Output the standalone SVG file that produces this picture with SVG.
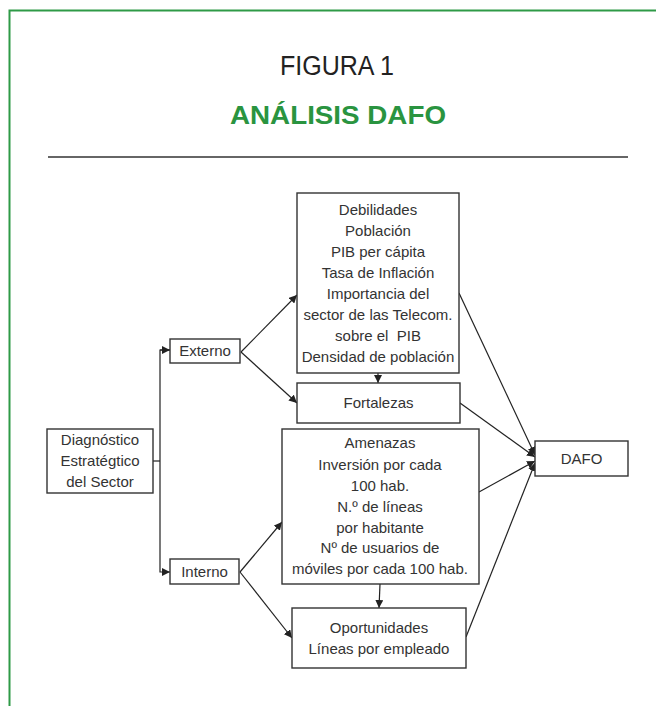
<svg xmlns="http://www.w3.org/2000/svg" width="656" height="706" viewBox="0 0 656 706">
<defs>
<style>
.box{fill:#fff;stroke:#333;stroke-width:1.4}
.t{font-family:"Liberation Sans",Arial,sans-serif;font-size:15px;fill:#333;text-anchor:middle}
.c{fill:none;stroke:#222;stroke-width:1.2}
</style>
<marker id="ah" viewBox="0 0 10 10" refX="10" refY="5" markerWidth="8" markerHeight="8" markerUnits="userSpaceOnUse" orient="auto">
<path d="M0,0 L10,5 L0,10 z" fill="#222"/>
</marker>
</defs>
<rect x="0" y="0" width="656" height="706" fill="#fff"/>
<path d="M9.5,706 L9.5,10.5 L656,10.5" fill="none" stroke="#2e9a47" stroke-width="2"/>
<text x="337" y="75" font-family="'Liberation Sans',Arial,sans-serif" font-size="27" fill="#222" text-anchor="middle" textLength="114" lengthAdjust="spacingAndGlyphs">FIGURA 1</text>
<text x="338" y="124" font-family="'Liberation Sans',Arial,sans-serif" font-size="26" font-weight="bold" fill="#2a9440" text-anchor="middle" textLength="216" lengthAdjust="spacingAndGlyphs">ANÁLISIS DAFO</text>
<line x1="48" y1="157" x2="628" y2="157" stroke="#333" stroke-width="1.3"/>

<g id="connectors">
<path class="c" d="M153,461 L160,461"/>
<path class="c" d="M170,350 L160,350 L160,572 L170,572" marker-end="url(#ah)"/>
<path class="c" d="M160,350 L170,350" marker-end="url(#ah)"/>
<path class="c" d="M241,352 L297,295" marker-end="url(#ah)"/>
<path class="c" d="M241,352 L297,403" marker-end="url(#ah)"/>
<path class="c" d="M240,572 L282,522" marker-end="url(#ah)"/>
<path class="c" d="M240,572 L292,638" marker-end="url(#ah)"/>
<path class="c" d="M378,373 L378,383" marker-end="url(#ah)"/>
<path class="c" d="M380,584 L379,608" marker-end="url(#ah)"/>
<path class="c" d="M459,293 L535,455" marker-end="url(#ah)"/>
<path class="c" d="M460,403 L535,457" marker-end="url(#ah)"/>
<path class="c" d="M479,492 L535,461" marker-end="url(#ah)"/>
<path class="c" d="M466,637 L535,463" marker-end="url(#ah)"/>
</g>

<g id="diagnostico">
<rect class="box" x="47" y="429" width="106" height="64"/>
<text class="t" x="100" y="445">Diagnóstico</text>
<text class="t" x="100" y="466">Estratégtico</text>
<text class="t" x="100" y="487">del Sector</text>
</g>

<g id="externo">
<rect class="box" x="170" y="339" width="70" height="24"/>
<text class="t" x="205" y="356">Externo</text>
</g>

<g id="interno">
<rect class="box" x="170" y="559" width="69" height="25"/>
<text class="t" x="204.5" y="577">Interno</text>
</g>

<g id="debilidades">
<rect class="box" x="297" y="193" width="162" height="180"/>
<text class="t" x="378" y="215">Debilidades</text>
<text class="t" x="378" y="236">Población</text>
<text class="t" x="378" y="257">PIB per cápita</text>
<text class="t" x="378" y="278">Tasa de Inflación</text>
<text class="t" x="378" y="299">Importancia del</text>
<text class="t" x="378" y="320">sector de las Telecom.</text>
<text class="t" x="378" y="341" xml:space="preserve">sobre el  PIB</text>
<text class="t" x="378" y="362">Densidad de población</text>
</g>

<g id="fortalezas">
<rect class="box" x="297" y="383" width="163" height="40"/>
<text class="t" x="378.5" y="408">Fortalezas</text>
</g>

<g id="amenazas">
<rect class="box" x="282" y="429" width="197" height="155"/>
<text class="t" x="380" y="448">Amenazas</text>
<text class="t" x="380" y="470">Inversión por cada</text>
<text class="t" x="380" y="491">100 hab.</text>
<text class="t" x="380" y="512">N.º de líneas</text>
<text class="t" x="380" y="533">por habitante</text>
<text class="t" x="380" y="553">Nº de usuarios de</text>
<text class="t" x="380" y="574">móviles por cada 100 hab.</text>
</g>

<g id="oportunidades">
<rect class="box" x="292" y="608" width="174" height="60"/>
<text class="t" x="379" y="633">Oportunidades</text>
<text class="t" x="379" y="654">Líneas por empleado</text>
</g>

<g id="dafo">
<rect class="box" x="535" y="441" width="93" height="35"/>
<text class="t" x="581.5" y="464">DAFO</text>
</g>
</svg>
